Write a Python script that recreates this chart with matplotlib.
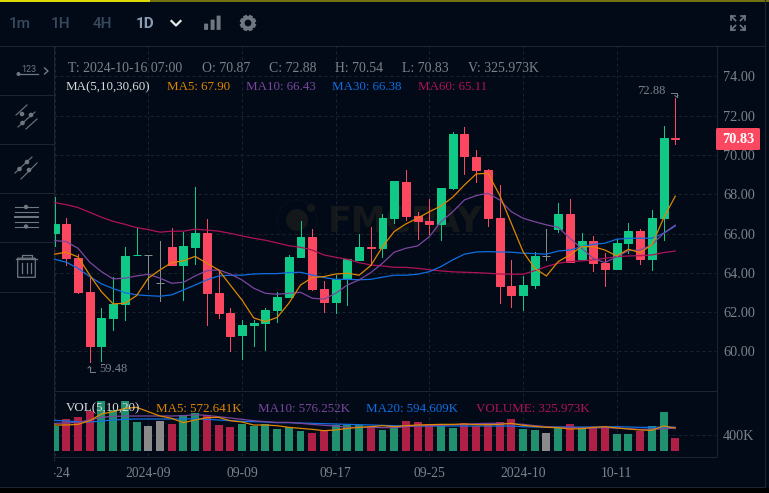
import matplotlib

matplotlib.use("Agg")
import matplotlib.pyplot as plt
import numpy as np
from matplotlib.patches import Circle, FancyBboxPatch, Rectangle
from matplotlib.transforms import Bbox

# --- values -----------------------------------------------------------------
opens = [66.04, 66.49, 64.76, 63.03, 60.30, 61.72, 62.43, 64.89, 64.90, 63.47,
         65.30, 64.42, 65.33, 66.01, 62.96, 61.95, 60.84, 61.35, 61.47, 62.11,
         62.77, 64.81, 65.83, 63.18, 62.52, 63.69, 64.66, 65.32, 65.27, 66.79,
         68.62, 66.89, 66.64, 66.49, 68.32, 71.07, 69.90, 69.23, 66.79, 63.33,
         62.88, 63.38, 64.84, 66.23, 67.00, 64.71, 65.62, 64.50, 64.20, 65.52,
         66.13, 64.71, 66.79, 70.87]
closes = [66.49, 64.77, 63.04, 60.30, 61.71, 62.42, 64.86, 64.91, 64.90, 63.47,
          64.42, 65.37, 66.01, 62.99, 61.98, 60.81, 61.35, 61.45, 62.11, 62.77,
          64.81, 65.83, 63.18, 62.54, 63.69, 64.71, 65.32, 65.28, 66.79, 68.67,
          66.89, 66.64, 66.49, 68.32, 71.07, 69.95, 69.23, 66.79, 63.35, 62.88,
          63.38, 64.86, 64.84, 67.00, 64.55, 65.62, 64.50, 64.20, 65.52, 66.13,
          64.71, 66.79, 70.87, 70.83]
highs = [67.88, 66.81, 64.96, 63.84, 62.21, 63.78, 65.30, 66.30, 64.90, 65.62,
         66.27, 66.10, 68.35, 66.73, 64.11, 62.20, 61.60, 61.60, 62.21, 63.03,
         64.91, 66.64, 66.23, 63.59, 63.89, 64.71, 65.98, 66.33, 67.00, 68.67,
         69.23, 67.10, 67.76, 68.32, 71.17, 71.42, 70.25, 69.28, 68.47, 64.66,
         63.84, 65.06, 66.23, 67.56, 67.76, 66.03, 65.88, 65.00, 65.72, 66.54,
         66.23, 67.20, 71.47, 72.88]
lows = [65.38, 64.40, 63.00, 59.48, 59.52, 61.10, 61.60, 64.89, 63.18, 62.59,
        64.42, 62.62, 64.45, 61.35, 61.72, 60.03, 59.62, 60.30, 60.08, 61.52,
        62.77, 64.81, 63.13, 62.01, 61.96, 62.37, 64.66, 64.40, 64.81, 66.54,
        66.69, 65.72, 65.98, 65.67, 68.27, 69.03, 68.62, 66.39, 62.47, 62.27,
        62.11, 63.23, 64.66, 66.08, 64.55, 64.71, 64.10, 63.33, 64.20, 65.00,
        64.46, 64.15, 65.67, 70.54]
ma5 = [64.95, 65.05, 64.81, 63.89, 63.04, 62.42, 62.45, 62.84, 63.73, 64.15,
       64.52, 64.61, 64.84, 64.49, 64.15, 63.38, 62.62, 61.71, 61.52, 61.73,
       62.45, 63.38, 63.76, 63.81, 63.94, 63.98, 63.88, 64.37, 65.33, 66.10,
       66.49, 66.78, 67.11, 67.40, 67.85, 68.47, 69.03, 69.07, 67.96, 66.52,
       65.08, 64.23, 63.84, 64.57, 64.91, 65.33, 65.33, 65.16, 64.86, 65.20,
       65.03, 65.42, 66.78, 67.90]
ma10 = [65.64, 65.59, 65.25, 64.54, 64.06, 63.69, 63.73, 63.84, 63.93, 63.73,
        63.47, 63.52, 63.84, 64.11, 64.15, 63.94, 63.64, 63.22, 62.96, 62.91,
        62.96, 63.01, 62.71, 62.66, 62.96, 63.38, 63.64, 64.01, 64.49, 65.05,
        65.25, 65.37, 65.84, 66.60, 67.11, 67.71, 67.93, 68.05, 67.71, 67.11,
        66.78, 66.60, 66.44, 66.32, 65.76, 65.25, 64.74, 64.52, 64.82, 65.13,
        65.16, 65.42, 66.01, 66.43]
ma30 = [64.69, 64.54, 64.23, 63.81, 63.44, 63.20, 62.99, 62.88, 62.84, 62.81,
        62.88, 63.13, 63.38, 63.64, 63.84, 63.88, 63.88, 63.94, 63.96, 63.96,
        64.01, 64.03, 63.89, 63.76, 63.67, 63.67, 63.65, 63.67, 63.78, 63.88,
        63.88, 63.93, 64.06, 64.32, 64.66, 64.95, 65.06, 65.08, 65.06, 65.05,
        65.00, 64.98, 64.95, 65.11, 65.16, 65.33, 65.45, 65.51, 65.71, 65.76,
        65.76, 65.76, 66.01, 66.38]
ma60 = [67.57, 67.47, 67.32, 67.08, 66.83, 66.62, 66.47, 66.30, 66.20, 66.07,
        66.12, 66.12, 66.22, 66.18, 66.12, 66.01, 65.88, 65.76, 65.66, 65.52,
        65.38, 65.30, 65.16, 64.91, 64.79, 64.69, 64.52, 64.40, 64.35, 64.28,
        64.28, 64.23, 64.16, 64.10, 64.05, 64.03, 64.01, 63.98, 63.94, 63.93,
        63.93, 64.11, 64.32, 64.49, 64.57, 64.61, 64.66, 64.74, 64.82, 64.86,
        64.87, 64.91, 65.03, 65.11]
volumes = [633, 800, 850, 992, 1250, 1025, 1250, 725, 625, 750,
           675, 892, 950, 900, 650, 600, 675, 625, 675, 550,
           600, 500, 450, 525, 650, 650, 650, 600, 525, 567,
           750, 725, 675, 625, 575, 700, 625, 700, 725, 800,
           550, 525, 450, 600, 675, 600, 575, 600, 425, 425,
           500, 625, 975, 326]
vol_ma5 = [650, 650, 666, 758, 925, 983, 1066, 1091, 983, 875,
           816, 708, 775, 833, 841, 758, 725, 650, 650, 633,
           591, 566, 541, 508, 525, 566, 591, 608, 633, 608,
           633, 650, 658, 666, 666, 675, 658, 658, 666, 691,
           641, 616, 591, 583, 550, 558, 591, 608, 575, 550,
           525, 516, 625, 573]
vol_ma10 = [691, 700, 716, 775, 841, 866, 875, 875, 875, 875,
            875, 883, 908, 891, 858, 825, 791, 758, 733, 716,
            716, 691, 666, 641, 625, 591, 591, 591, 583, 583,
            608, 625, 633, 641, 658, 666, 683, 691, 691, 683,
            666, 633, 608, 591, 591, 575, 575, 583, 575, 558,
            541, 550, 550, 576]
vol_ma20 = [766, 750, 733, 725, 750, 775, 791, 800, 800, 800,
            800, 800, 808, 791, 775, 758, 741, 733, 725, 708,
            708, 700, 691, 683, 675, 666, 658, 650, 641, 633,
            625, 625, 625, 625, 625, 625, 625, 625, 625, 625,
            608, 600, 600, 600, 600, 600, 600, 600, 608, 600,
            591, 591, 600, 595]
date_ticks = [0, 8, 16, 24, 32, 40, 48]
date_labels = ["08-24", "2024-09", "09-09", "09-17", "09-25", "2024-10", "10-11"]
price_ticks = [60, 62, 64, 66, 68, 70, 72, 74]

# --- colours ------------------------------------------------------------------
BG = "#020a17"
LINE = "#1e2530"
GRID = "#1a222b"
TEXT = "#7b828a"
UP = "#10c987"
DOWN = "#fb4760"
FLAT = "#8a8a8a"
VOL_UP = "#20906e"
VOL_DOWN = "#b01f45"
C_MA5 = "#e08600"
C_MA10 = "#7b479f"
C_MA30 = "#0f6ee0"
C_MA60 = "#b0125a"
ICON = "#6f7781"

SERIF = "Liberation Serif"
W, H = 769, 493
XLIM = (-0.05, 56.48)
PX = 0.72  # one pixel, in points

fig = plt.figure(figsize=(W / 100, H / 100), dpi=100, facecolor=BG)


def rect_px(x0, y0, x1, y1):
    """Axes rectangle from image pixel corners (y measured downward)."""
    return [x0 / W, (H - y1) / H, (x1 - x0) / W, (y1 - y0) / H]


# chrome behind the chart, in pixel coordinates
chrome = fig.add_axes([0, 0, 1, 1], zorder=0)
chrome.set_xlim(0, W)
chrome.set_ylim(H, 0)
chrome.axis("off")

top = fig.add_axes([0, 0, 1, 1], zorder=3)
top.set_xlim(0, W)
top.set_ylim(H, 0)
top.axis("off")

ax = fig.add_axes(rect_px(54, 46, 716, 390), zorder=1, facecolor="none")
vol = fig.add_axes(rect_px(54, 390, 716, 456), zorder=1, facecolor="none")

x = np.arange(len(closes))
colors = [UP if c > o else DOWN if c < o else FLAT for o, c in zip(opens, closes)]
vol_colors = [VOL_UP if c > o else VOL_DOWN if c < o else FLAT
              for o, c in zip(opens, closes)]

# --- price panel ----------------------------------------------------------------
# aliasing off keeps the wicks one crisp pixel wide instead of a pale smear
ax.vlines(x, lows, highs, colors=colors, lw=PX, antialiased=False, zorder=2)
ax.bar(x, np.subtract(closes, opens), bottom=opens, width=0.68, color=colors,
       edgecolor=colors, lw=PX, zorder=3)
for series, col in [(ma60, C_MA60), (ma30, C_MA30), (ma10, C_MA10), (ma5, C_MA5)]:
    ax.plot(x, series, color=col, lw=0.9, zorder=4)

ax.set_xlim(*XLIM)
ax.set_ylim(58.04, 75.54)
ax.set_yticks(price_ticks)
ax.set_yticklabels([f"{p:.2f}" for p in price_ticks], family=SERIF, fontsize=10.3,
                   color=TEXT)
ax.yaxis.tick_right()
ax.set_xticks(date_ticks)
ax.tick_params(axis="x", length=0, labelbottom=False)
ax.tick_params(axis="y", length=0, pad=5)
ax.grid(True, color=GRID, lw=PX, linestyle=(0, (3, 3)), zorder=0)
ax.set_axisbelow(True)
for spine in ax.spines.values():
    spine.set_visible(False)

# --- volume panel ---------------------------------------------------------------
vol.bar(x, volumes, width=0.68, color=vol_colors, zorder=2)
vol.plot(x, vol_ma20, color=C_MA30, lw=0.9, zorder=3)
vol.plot(x, vol_ma10, color=C_MA10, lw=0.9, zorder=3)
vol.plot(x, vol_ma5, color=C_MA5, lw=0.9, zorder=3)
vol.set_xlim(*XLIM)
vol.set_ylim(-125, 1525)
vol.set_yticks([400])
vol.set_yticklabels(["400K"], family=SERIF, fontsize=10.3, color=TEXT)
vol.yaxis.tick_right()
vol.set_xticks(date_ticks)
vol.set_xticklabels(date_labels, family=SERIF, fontsize=9.8, color=TEXT)
vol.tick_params(axis="x", length=0, pad=8)
vol.tick_params(axis="y", length=0, pad=5)
vol.grid(True, color=GRID, lw=PX, linestyle=(0, (3, 3)), zorder=0)
vol.set_axisbelow(True)
for spine in vol.spines.values():
    spine.set_visible(False)
# the first date label runs off the left edge of the plot and gets cut there
first = vol.get_xticklabels()[0]
first.set_clip_on(True)
first.set_clip_box(Bbox([[54, 0], [W, H]]))

# --- frame lines ------------------------------------------------------------------
chrome.plot([0, 150], [0.8, 0.8], color="#f5f000", lw=1.3, solid_capstyle="butt")
chrome.plot([150, W], [0.8, 0.8], color="#7d7d10", lw=1.3, solid_capstyle="butt")
chrome.plot([0, 764], [45.5, 45.5], color=LINE, lw=PX)
chrome.plot([53.5, 53.5], [46, 461], color=LINE, lw=PX)
chrome.plot([716.5, 716.5], [46, 456], color=LINE, lw=PX)
chrome.plot([54, 716], [390.5, 390.5], color=LINE, lw=PX)
chrome.plot([54, 716], [456.5, 456.5], color=LINE, lw=PX)
chrome.plot([0, 764], [486.5, 486.5], color=LINE, lw=PX)
chrome.plot([764.5, 764.5], [0, 487], color=LINE, lw=PX)
chrome.add_patch(Rectangle((0, 488), W, 5, color="#000000", lw=0))
for y in (94.5, 143.5, 192.5, 241.5, 291.5):
    chrome.plot([0, 53], [y, y], color=LINE, lw=PX)

# --- watermark ----------------------------------------------------------------------
MARK = "#14181b"
chrome.text(328, 222, "FMCPAY", family="DejaVu Sans", fontweight="bold", fontsize=25,
            color=MARK, va="center", ha="left")
chrome.add_patch(Circle((297, 220), 11, color=MARK, lw=0))
chrome.add_patch(Circle((311, 208), 4, color=MARK, lw=0))
chrome.add_patch(Circle((297, 220), 20, fill=False, ec=MARK, lw=PX, ls=(0, (1, 2))))

# --- toolbar -----------------------------------------------------------------------
for label, px, col, weight in [("1m", 20, "#3a4a5e", "medium"), ("1H", 61, "#3a4a5e", "medium"),
                               ("4H", 102, "#3a4a5e", "medium"), ("1D", 145, "#8c9cb2", "bold")]:
    chrome.text(px, 23.5, label, family="Roboto", fontsize=11, color=col,
                fontweight=weight, ha="center", va="center")
chrome.plot([171.5, 176, 180.5], [21, 25.5, 21], color="#e8e8e8", lw=1.6)
for bx, by in [(204.5, 24), (211, 20), (217, 16)]:
    chrome.add_patch(FancyBboxPatch((bx, by), 3.2, 29.5 - by, boxstyle="round,pad=0.4",
                                    color=ICON, lw=0))
chrome.add_patch(Circle((248, 23), 5.2, fill=False, ec=ICON, lw=2.6))
for ang in np.deg2rad(np.arange(0, 360, 45) + 22.5):
    chrome.plot([248 + 6 * np.cos(ang), 248 + 8.2 * np.cos(ang)],
                [23 + 6 * np.sin(ang), 23 + 8.2 * np.sin(ang)], color=ICON, lw=3,
                solid_capstyle="butt")
# fullscreen arrows
for (x0, y0, dx, dy) in [(731, 16, 1, 1), (745, 16, -1, 1), (731, 30, 1, -1), (745, 30, -1, -1)]:
    chrome.plot([x0 + 4 * dx, x0, x0], [y0, y0, y0 + 4 * dy], color=ICON, lw=1.2)
    chrome.plot([x0, x0 + 4.5 * dx], [y0, y0 + 4.5 * dy], color=ICON, lw=1.2)

# --- left tool strip -----------------------------------------------------------------
chrome.text(29, 69, "123", family="Roboto", fontsize=6.5, color=ICON, ha="center", va="center")
chrome.plot([19, 38], [74, 74], color=ICON, lw=0.9)
chrome.add_patch(Circle((18.5, 74), 2, color=ICON, lw=0))
chrome.plot([44.5, 48, 44.5], [68, 71, 74], color=ICON, lw=1)
for seg in [(16, 27, 115, 105), (18, 35, 127, 112), (26, 37, 129, 119)]:
    chrome.plot(seg[:2], seg[2:], color=ICON, lw=0.8)
for dx, dy in [(22, 114), (31, 115), (22.5, 123)]:
    chrome.add_patch(Circle((dx, dy), 2.3, color=ICON, lw=0))
for seg in [(15, 32, 173, 157), (21, 37, 179, 163)]:
    chrome.plot(seg[:2], seg[2:], color=ICON, lw=0.8)
for dx, dy in [(19.5, 169), (27, 162), (29, 170)]:
    chrome.add_patch(Circle((dx, dy), 2.3, color=ICON, lw=0))
for y, lw in [(207, 0.8), (212, 0.8), (217, 1.4), (222, 0.8), (226.5, 0.8)]:
    chrome.plot([15, 37.5], [y, y], color=ICON, lw=lw)
chrome.add_patch(Circle((26, 207), 2.2, color=ICON, lw=0))
chrome.add_patch(Circle((26, 226.5), 2.2, color=ICON, lw=0))
chrome.add_patch(FancyBboxPatch((18, 258.5), 17, 18.5, boxstyle="round,pad=0.3", fill=False,
                                ec=ICON, lw=0.9))
chrome.plot([16, 37], [258.5, 258.5], color=ICON, lw=0.9)
chrome.plot([21.5, 21.5, 31.5, 31.5], [258.5, 255, 255, 258.5], color=ICON, lw=0.9)
for tx in (22, 26.5, 31):
    chrome.plot([tx, tx], [263, 273], color=ICON, lw=0.9)

# --- legends and value labels ----------------------------------------------------------
LEG_TOP = 9.9
LEG = 9.35
for px, s in [(68, "T: 2024-10-16 07:00"), (202, "O: 70.87"), (269, "C: 72.88"),
              (335, "H: 70.54"), (402, "L: 70.83"), (468, "V: 325.973K")]:
    top.text(px, 68.5, s, family=SERIF, fontsize=LEG_TOP, color=TEXT, va="center")
for px, s, col in [(66, "MA(5,10,30,60)", "#dcdcdc"), (167, "MA5: 67.90", C_MA5),
                   (246, "MA10: 66.43", C_MA10), (332, "MA30: 66.38", C_MA30),
                   (418, "MA60: 65.11", C_MA60)]:
    top.text(px, 87.5, s, family=SERIF, fontsize=LEG, color=col, va="center")
for px, s, col in [(66, "VOL(5,10,20)", "#dcdcdc"), (156, "MA5: 572.641K", C_MA5),
                   (258, "MA10: 576.252K", C_MA10), (366, "MA20: 594.609K", C_MA30),
                   (476, "VOLUME: 325.973K", C_MA60)]:
    top.text(px, 408.5, s, family=SERIF, fontsize=LEG, color=col, va="center")

top.text(665, 90.5, "72.88", family=SERIF, fontsize=9, color=TEXT, ha="right", va="center")
top.plot([671, 676.5, 676.5], [93, 93, 97], color=TEXT, lw=0.7)
top.plot([675, 676.5, 678], [95.5, 97, 95.5], color=TEXT, lw=0.7)
top.text(99, 369.5, "59.48", family=SERIF, fontsize=9, color=TEXT, ha="left", va="center")
top.plot([95, 89.5, 89.5], [371.5, 371.5, 366.5], color=TEXT, lw=0.7)
top.plot([88, 89.5, 91], [368, 366.5, 368], color=TEXT, lw=0.7)

top.add_patch(FancyBboxPatch((717.5, 129.5), 41, 19, boxstyle="round,pad=1.5", color=DOWN, lw=0))
top.text(738, 139.5, "70.83", family=SERIF, fontsize=10.3, fontweight="bold", color="white",
         ha="center", va="center")

fig.savefig("out.png", dpi=100, facecolor=BG)
plt.close(fig)
